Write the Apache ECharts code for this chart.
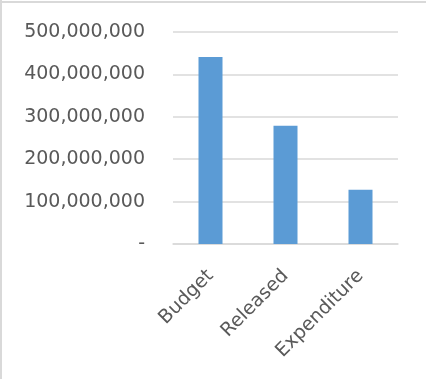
<!DOCTYPE html>
<html><head><meta charset="utf-8">
<script src="https://cdn.jsdelivr.net/npm/echarts@6/dist/echarts.min.js"></script>
<style>html,body{margin:0;padding:0;background:#fff}#c{width:426px;height:379px}</style>
</head><body><div id="c"></div>
<script>
var categories = ['Budget', 'Released', 'Expenditure'];
var values = [441000000, 279000000, 128000000];
var yTicks = [0, 100000000, 200000000, 300000000, 400000000, 500000000];

var chart = echarts.init(document.getElementById('c'), null, {renderer: 'canvas'});
chart.setOption({
  animation: false,
  backgroundColor: '#ffffff',
  graphic: [
    {type: 'line', shape: {x1: 1, y1: 0, x2: 1, y2: 379}, style: {stroke: '#d9d9d9', lineWidth: 2}},
    {type: 'line', shape: {x1: 0, y1: 2, x2: 426, y2: 2}, style: {stroke: '#d9d9d9', lineWidth: 2}}
  ],
  grid: {left: 173, right: 28, top: 32, bottom: 135, containLabel: false},
  xAxis: {
    type: 'category',
    data: categories,
    axisLine: {lineStyle: {color: '#d9d9d9', width: 1.5}},
    axisTick: {show: false},
    axisLabel: {rotate: 45, margin: 29, color: '#595959', fontFamily: 'DejaVu Sans', fontSize: 19, interval: 0}
  },
  yAxis: {
    type: 'value',
    min: yTicks[0],
    max: yTicks[yTicks.length - 1],
    interval: 100000000,
    axisLine: {show: false},
    axisTick: {show: false},
    splitLine: {lineStyle: {color: '#d9d9d9', width: 1.5}},
    axisLabel: {
      margin: 28, color: '#595959', fontFamily: 'DejaVu Sans', fontSize: 19,
      formatter: function (v) { return v === 0 ? '-' : v.toLocaleString('en-US'); }
    }
  },
  series: [{
    type: 'bar',
    data: values,
    barWidth: 24,
    itemStyle: {color: '#5B9BD5'}
  }]
});
</script></body></html>
